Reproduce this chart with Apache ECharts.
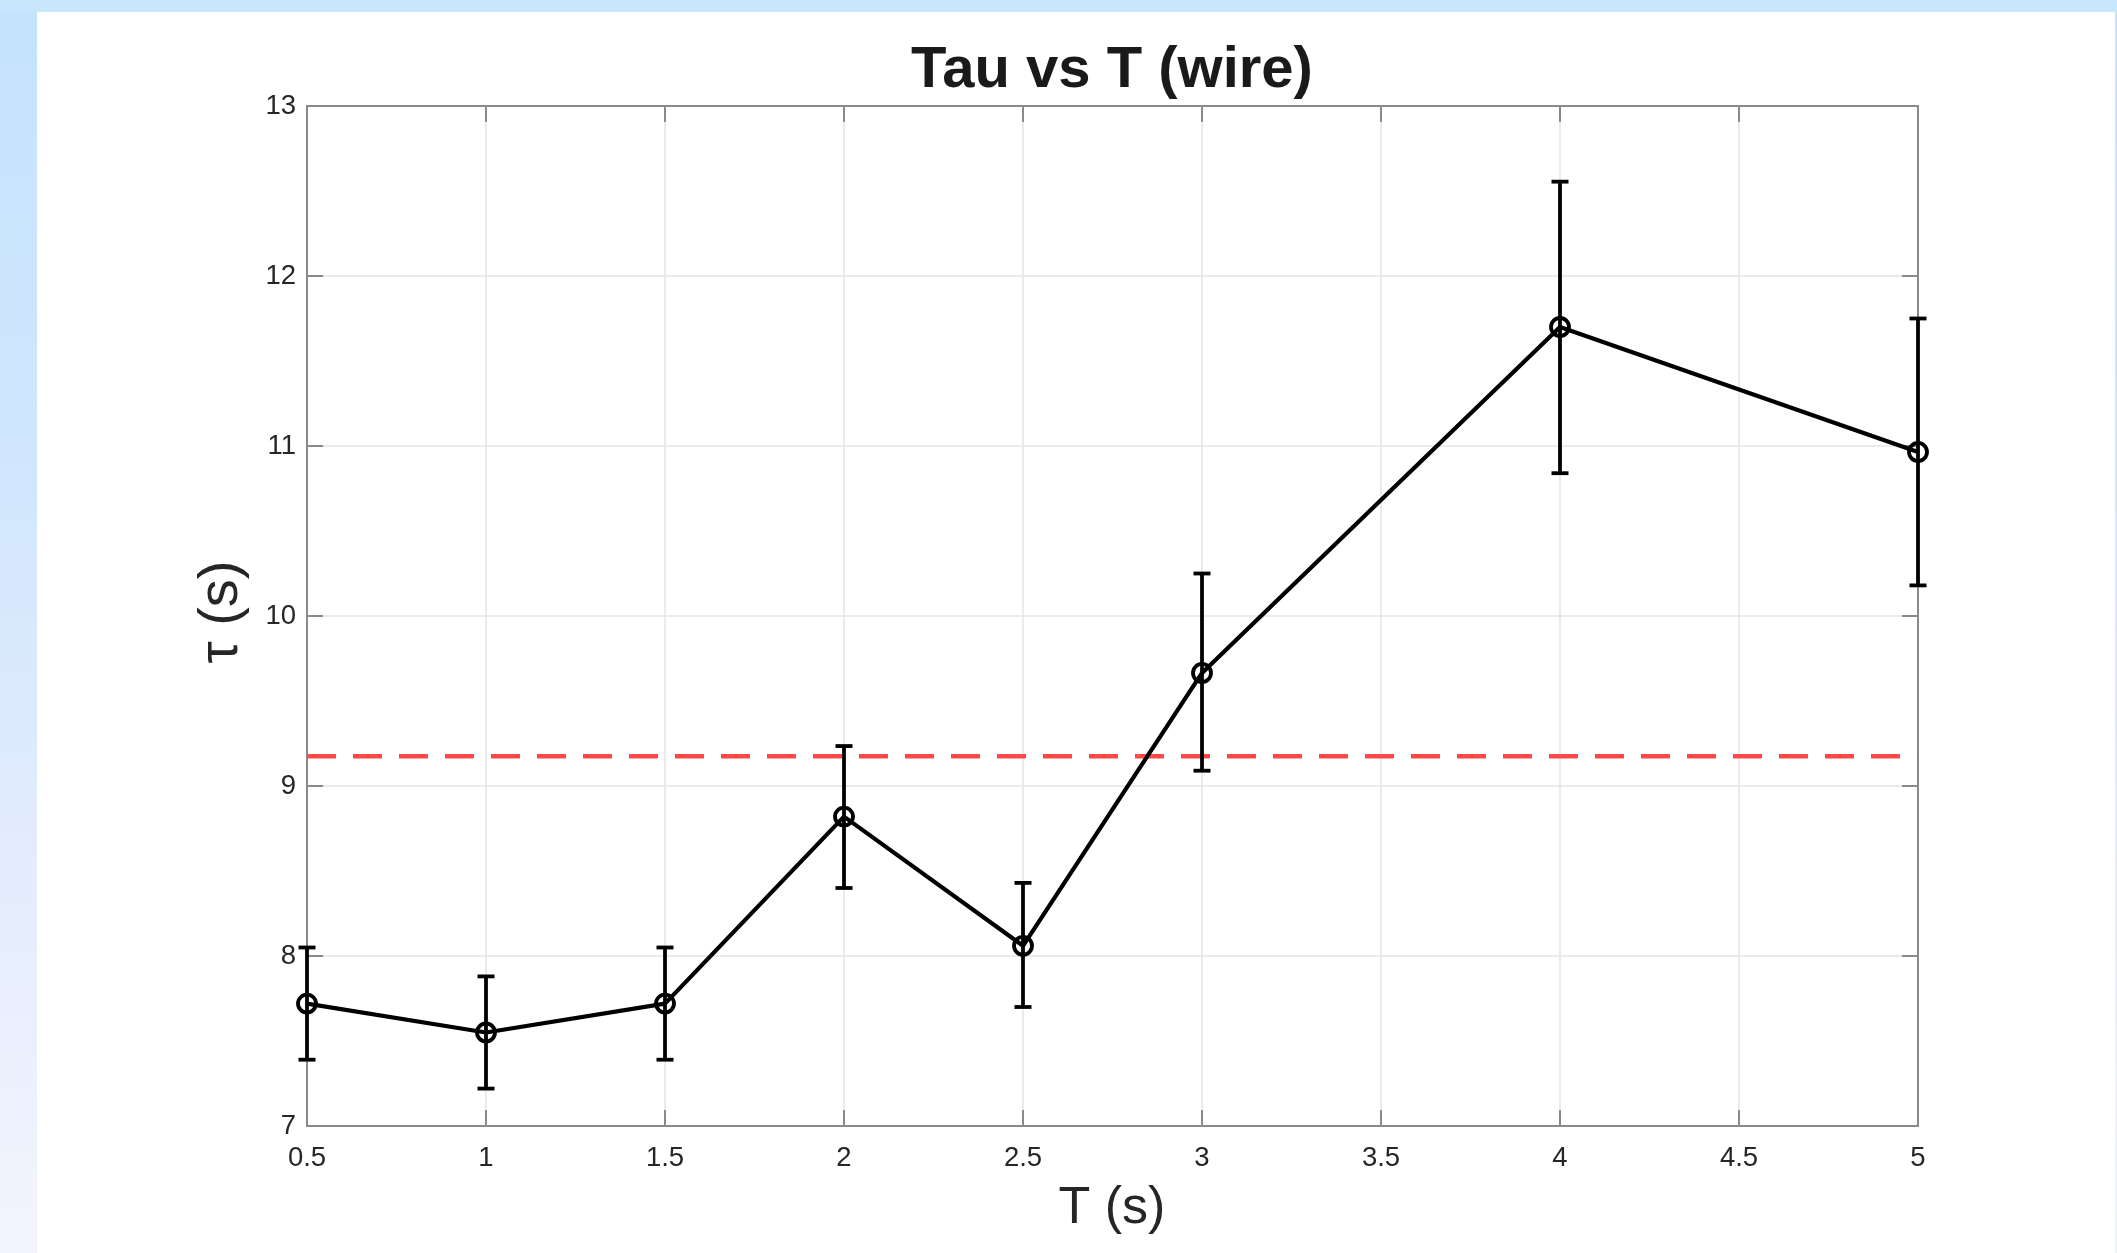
<!DOCTYPE html>
<html>
<head>
<meta charset="utf-8">
<script src="https://cdn.jsdelivr.net/npm/echarts@6/dist/echarts.min.js"></script>
<style>
  html, body { margin: 0; padding: 0; }
  body { width: 2117px; height: 1253px; position: relative; overflow: hidden;
         background: linear-gradient(180deg, #c5e3fc 0%, #cfe6fd 35%, #e4ecfd 70%, #f3f5fe 100%); }
  #topband { position: absolute; left: 0; top: 0; width: 2117px; height: 12px; background: #c8e6fc; }
  #panel { position: absolute; left: 37px; top: 12px; width: 2078px; height: 1241px; background: #ffffff; }
  #chart { position: absolute; left: 0; top: 0; width: 2117px; height: 1253px; }
</style>
</head>
<body>
<div id="topband"></div>
<div id="panel"></div>
<div id="chart"></div>
<script>
// ---- data ----
const T        = [0.5, 1, 1.5, 2, 2.5, 3, 4, 5];
const tau      = [7.72, 7.55, 7.72, 8.82, 8.06, 9.665, 11.70, 10.965];
const tauLower = [7.39, 7.22, 7.39, 8.40, 7.70, 9.09, 10.84, 10.18];
const tauUpper = [8.05, 7.88, 8.05, 9.235, 8.43, 10.25, 12.555, 11.75];
const meanTau  = 9.175;
const xTicks   = [0.5, 1, 1.5, 2, 2.5, 3, 3.5, 4, 4.5, 5];
const yTicks   = [7, 8, 9, 10, 11, 12, 13];
const titleText = 'Tau vs T (wire)';
const xLabel = 'T (s)';
const yLabel = 'τ (s)';

const FONT = '"Liberation Sans", Arial, Helvetica, sans-serif';
const axisGray = '#8a8a8a';
const textDark = '#262626';

const lineData = T.map((x, i) => [x, tau[i]]);
const errData = T.map((x, i) => [x, tauLower[i], tauUpper[i]]);
const meanData = [[xTicks[0], meanTau], [xTicks[xTicks.length - 1], meanTau]];

const chart = echarts.init(document.getElementById('chart'), null, { renderer: 'canvas' });

const gridLeft = 307, gridTop = 106, gridRight = 2117 - 1918, gridBottom = 1253 - 1126;

function baseX(extra) {
  return Object.assign({
    type: 'value', gridIndex: 0,
    min: xTicks[0], max: xTicks[xTicks.length - 1], interval: 0.5,
    axisLine: { show: true, onZero: false, lineStyle: { color: axisGray, width: 2 } },
    axisTick: { show: true, inside: true, length: 16, lineStyle: { color: axisGray, width: 2 } },
    splitLine: { show: false }
  }, extra);
}
function baseY(extra) {
  return Object.assign({
    type: 'value', gridIndex: 0,
    min: yTicks[0], max: yTicks[yTicks.length - 1], interval: 1,
    axisLine: { show: true, onZero: false, lineStyle: { color: axisGray, width: 2 } },
    axisTick: { show: true, inside: true, length: 16, lineStyle: { color: axisGray, width: 2 } },
    splitLine: { show: false }
  }, extra);
}

chart.setOption({
  animation: false,
  backgroundColor: 'transparent',
  grid: { left: gridLeft, top: gridTop, right: gridRight, bottom: gridBottom, containLabel: false },
  xAxis: [
    baseX({
      position: 'bottom',
      axisLabel: { show: true, fontFamily: FONT, fontSize: 27.5, color: textDark, margin: 18 },
      splitLine: { show: true, lineStyle: { color: '#e4e4e4', width: 1.5 } }
    }),
    baseX({ position: 'top', axisLabel: { show: false } })
  ],
  yAxis: [
    baseY({
      position: 'left',
      axisLabel: { show: true, fontFamily: FONT, fontSize: 27.5, color: textDark, margin: 11 },
      splitLine: { show: true, lineStyle: { color: '#e4e4e4', width: 1.5 } }
    }),
    baseY({ position: 'right', axisLabel: { show: false } })
  ],
  graphic: [
    { type: 'text', x: 1112, y: 71, z: 100,
      style: { text: titleText, font: 'bold 58px ' + FONT, fill: '#1a1a1a', align: 'center', verticalAlign: 'middle' } },
    { type: 'text', x: 1112, y: 1209, z: 100,
      style: { text: xLabel, font: '52px ' + FONT, fill: textDark, align: 'center', verticalAlign: 'middle' } },
    { type: 'text', x: 222, y: 612, rotation: Math.PI / 2, z: 100,
      style: { text: yLabel, font: '56px ' + FONT, fill: textDark, align: 'center', verticalAlign: 'middle' } }
  ],
  series: [
    {
      type: 'line', xAxisIndex: 0, yAxisIndex: 0, data: meanData,
      symbol: 'none', silent: true, z: 2,
      lineStyle: { color: '#ff4848', width: 4.5, type: [29, 17] }
    },
    {
      type: 'custom', xAxisIndex: 0, yAxisIndex: 0, data: errData, z: 3,
      renderItem: function (params, api) {
        const x = api.value(0);
        const top = api.coord([x, api.value(2)]);
        const bot = api.coord([x, api.value(1)]);
        const hw = 8.5;
        const st = { stroke: '#000', lineWidth: 3.8 };
        return {
          type: 'group',
          children: [
            { type: 'line', shape: { x1: top[0], y1: top[1], x2: bot[0], y2: bot[1] }, style: st },
            { type: 'line', shape: { x1: top[0] - hw, y1: top[1], x2: top[0] + hw, y2: top[1] }, style: st },
            { type: 'line', shape: { x1: bot[0] - hw, y1: bot[1], x2: bot[0] + hw, y2: bot[1] }, style: st }
          ]
        };
      }
    },
    {
      type: 'line', xAxisIndex: 0, yAxisIndex: 0, data: lineData, z: 4,
      symbol: 'circle', symbolSize: 18,
      lineStyle: { color: '#000', width: 4.2 },
      itemStyle: { color: 'rgba(0,0,0,0)', borderColor: '#000', borderWidth: 3.8 }
    }
  ]
});
</script>
</body>
</html>
